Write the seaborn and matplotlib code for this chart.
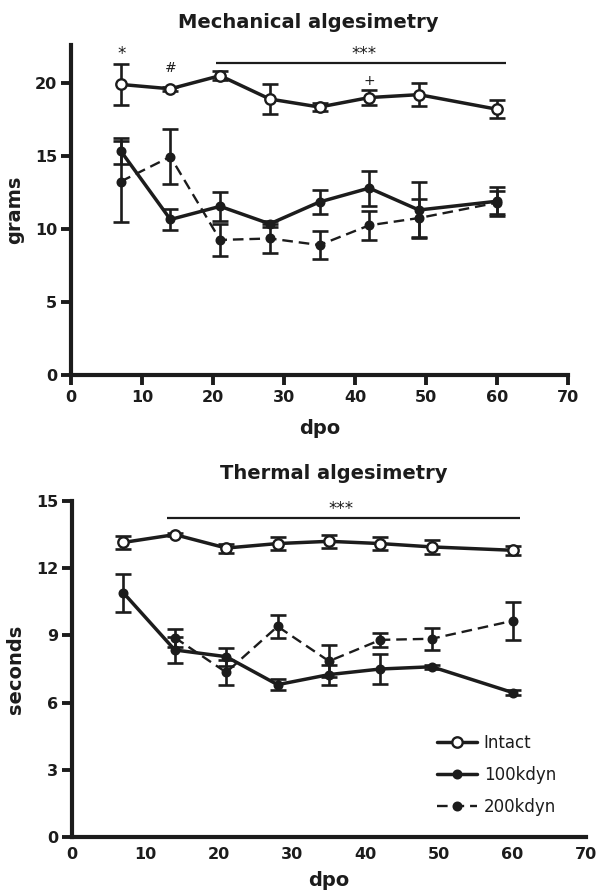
import matplotlib
matplotlib.use("Agg")
import matplotlib.pyplot as plt
import numpy as np
import pandas as pd
import seaborn as sns

# ---------------------------------------------------------------------------
# Data: mean and SEM per day post-operation
# ---------------------------------------------------------------------------
DPO = [7, 14, 21, 28, 35, 42, 49, 60]

MECH_INTACT = [19.9, 19.6, 20.5, 18.9, 18.35, 19.0, 19.2, 18.2]
MECH_INTACT_SEM = [1.4, 0.15, 0.3, 1.0, 0.3, 0.5, 0.8, 0.6]
MECH_100 = [15.35, 10.65, 11.55, 10.35, 11.85, 12.8, 11.3, 11.9]
MECH_100_SEM = [0.9, 0.7, 1.0, 0.2, 0.8, 1.2, 1.9, 1.0]
MECH_200 = [13.25, 14.95, 9.25, 9.35, 8.9, 10.25, 10.75, 11.8]
MECH_200_SEM = [2.8, 1.9, 1.1, 1.0, 0.95, 1.0, 1.3, 0.8]

THERM_INTACT = [13.15, 13.5, 12.9, 13.1, 13.2, 13.1, 12.95, 12.8]
THERM_INTACT_SEM = [0.3, 0.05, 0.2, 0.3, 0.3, 0.3, 0.3, 0.2]
THERM_100 = [10.9, 8.35, 8.05, 6.8, 7.25, 7.5, 7.6, 6.45]
THERM_100_SEM = [0.85, 0.6, 0.4, 0.25, 0.45, 0.65, 0.1, 0.1]
THERM_DPO_200 = [14, 21, 28, 35, 42, 49, 60]
THERM_200 = [8.9, 7.35, 9.4, 7.85, 8.8, 8.85, 9.65]
THERM_200_SEM = [0.4, 0.55, 0.5, 0.7, 0.3, 0.5, 0.85]

# significance marks: (x, y, text, size)
MECH_MARKS = [(7.2, 22.0, "*", 12), (14, 21.0, "#", 10), (42, 20.15, "+", 10),
              (41.2, 22.0, "***", 12)]
MECH_BAR = (20.4, 61.2, 21.35)
THERM_MARKS = [(36.6, 14.65, "***", 12)]
THERM_BAR = (13, 61, 14.23)

XTICKS = [0, 10, 20, 30, 40, 50, 60, 70]
MECH_YTICKS = [0, 5, 10, 15, 20]
THERM_YTICKS = [0, 3, 6, 9, 12, 15]

INK = "#1c1c1c"
W, H = 599, 893

sns.set_theme(style="ticks")
plt.rcParams["font.family"] = ["DejaVu Sans"]
plt.rcParams["font.weight"] = "bold"
plt.rcParams["axes.labelweight"] = "bold"
plt.rcParams["axes.titleweight"] = "bold"
plt.rcParams["text.color"] = INK


def draw_group(ax, x, y, sem, label, filled, dashed):
    """Error bars with matplotlib, line + markers with seaborn."""
    ax.errorbar(x, y, yerr=sem, fmt="none", ecolor=INK, elinewidth=1.9,
                capsize=5.5, capthick=1.9, zorder=2)
    df = pd.DataFrame({"dpo": x, "value": y})
    sns.lineplot(
        data=df, x="dpo", y="value", ax=ax, legend=False,
        color=INK,
        linewidth=1.7 if dashed else 2.5,
        linestyle=(0, (4.5, 2.5)) if dashed else "-",
        marker="o",
        markersize=7.5 if not filled else 5.5,
        markerfacecolor=INK if filled else "white",
        markeredgecolor=INK,
        markeredgewidth=1.7,
        label=label,
        zorder=3,
    )


def style_axes(ax, ylim, yticks, ylabel, xtick_len, xpad, xlabelpad):
    ax.set_xlim(0, 70)
    ax.set_ylim(*ylim)
    ax.set_xticks(XTICKS)
    ax.set_yticks(yticks)
    ax.set_xlabel("dpo", fontsize=14, labelpad=xlabelpad, color=INK)
    ax.set_ylabel(ylabel, fontsize=14, labelpad=8, color=INK)
    ax.tick_params(axis="y", direction="out", length=7, width=2.8,
                   labelsize=11.5, pad=3, colors=INK)
    ax.tick_params(axis="x", direction="out", length=xtick_len, width=2.8,
                   labelsize=11.5, pad=xpad, colors=INK)
    sns.despine(ax=ax)
    for side in ("left", "bottom"):
        ax.spines[side].set_linewidth(3.0)
        ax.spines[side].set_color(INK)


def px_axes(fig, x0, x1, ytop, ybot):
    return fig.add_axes([x0 / W, 1 - ybot / H, (x1 - x0) / W, (ybot - ytop) / H])


fig = plt.figure(figsize=(W / 100, H / 100), dpi=100)
ax1 = px_axes(fig, 71, 568, 45, 375)
ax2 = px_axes(fig, 72, 586, 501, 837)

# --- Mechanical ---------------------------------------------------------
draw_group(ax1, DPO, MECH_200, MECH_200_SEM, "200kdyn", True, True)
draw_group(ax1, DPO, MECH_100, MECH_100_SEM, "100kdyn", True, False)
draw_group(ax1, DPO, MECH_INTACT, MECH_INTACT_SEM, "Intact", False, False)
style_axes(ax1, (0, 22.6), MECH_YTICKS, "grams", 7, 4, 10)
ax1.set_title("Mechanical algesimetry", fontsize=14, pad=12, x=0.478)
ax1.hlines(MECH_BAR[2], MECH_BAR[0], MECH_BAR[1], color=INK, lw=1.6)
for x, y, t, s in MECH_MARKS:
    ax1.text(x, y, t, ha="center", va="center", fontsize=s, color=INK,
             fontweight="normal")

# --- Thermal ------------------------------------------------------------
draw_group(ax2, THERM_DPO_200, THERM_200, THERM_200_SEM, "200kdyn", True, True)
draw_group(ax2, DPO, THERM_100, THERM_100_SEM, "100kdyn", True, False)
draw_group(ax2, DPO, THERM_INTACT, THERM_INTACT_SEM, "Intact", False, False)
style_axes(ax2, (0, 15), THERM_YTICKS, "seconds", 0, 7, 7)
ax2.set_title("Thermal algesimetry", fontsize=14, pad=16, x=0.51)
ax2.hlines(THERM_BAR[2], THERM_BAR[0], THERM_BAR[1], color=INK, lw=1.6)
for x, y, t, s in THERM_MARKS:
    ax2.text(x, y, t, ha="center", va="center", fontsize=s, color=INK,
             fontweight="normal")

handles, labels = ax2.get_legend_handles_labels()
order = [labels.index(g) for g in ["Intact", "100kdyn", "200kdyn"]]
leg = ax2.legend([handles[i] for i in order], [labels[i] for i in order],
                 loc="upper left", bbox_to_anchor=(437 / W, 1 - 734 / H),
                 bbox_transform=fig.transFigure, frameon=False,
                 borderpad=0, borderaxespad=0,
                 handlelength=2.4, handletextpad=0.4, labelspacing=0.85,
                 prop={"size": 12, "weight": "normal"})

fig.savefig("out.png", dpi=100)
